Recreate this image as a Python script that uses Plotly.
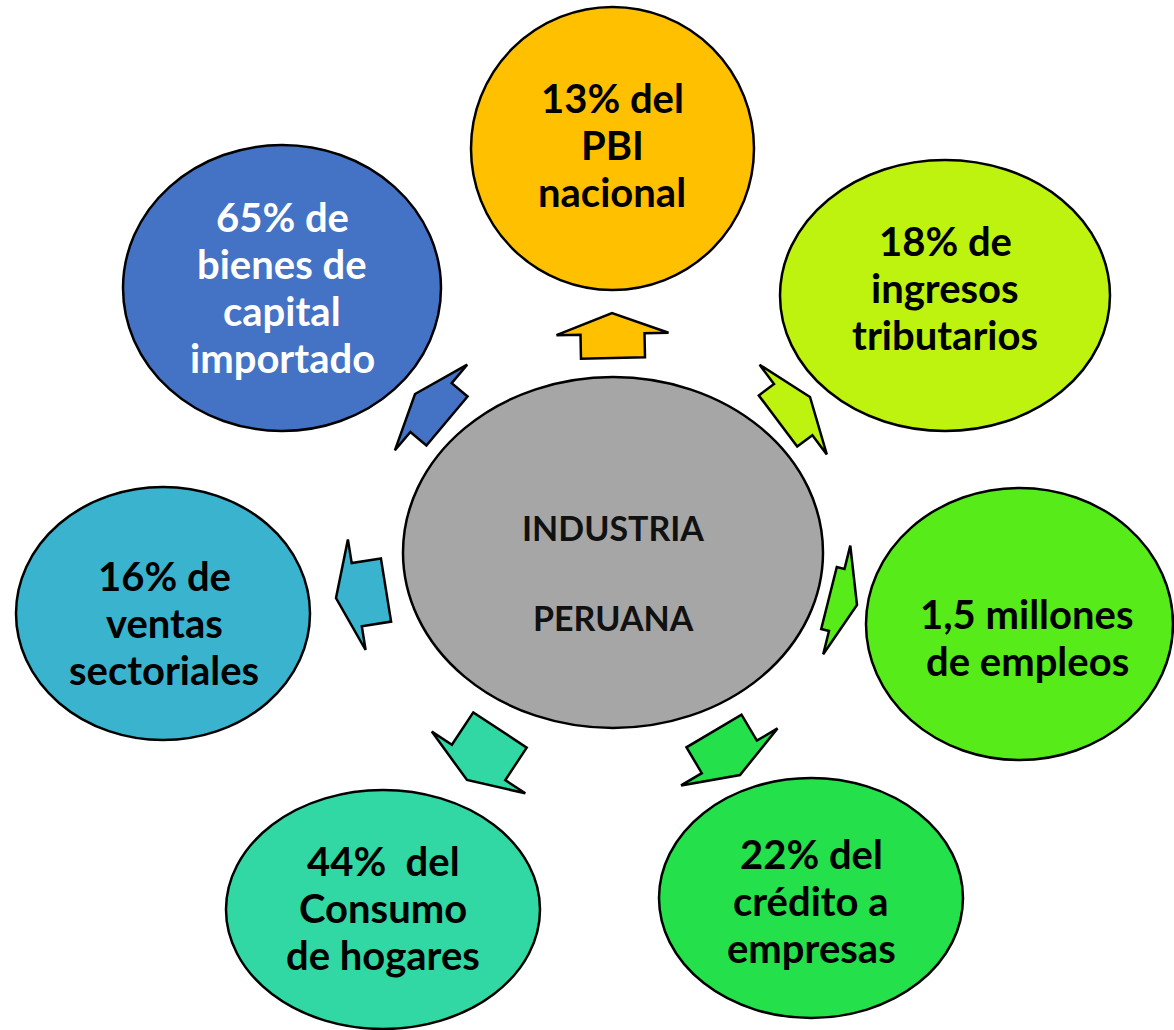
import math
import plotly.graph_objects as go

W, H = 1174, 1030

# Node data
center_lines = ["INDUSTRIA", "PERUANA"]
node_labels = [
    ["13% del", "PBI", "nacional"],
    ["65% de", "bienes de", "capital", "importado"],
    ["18% de", "ingresos", "tributarios"],
    ["16% de", "ventas", "sectoriales"],
    ["1,5 millones", "de empleos"],
    ["44%  del", "Consumo", "de hogares"],
    ["22% del", "crédito a", "empresas"],
]
node_colors = ["#FFC000", "#4472C4", "#BEF20F", "#3AB4CE", "#57EB1A", "#31D8A3", "#23E04B"]
node_text_colors = ["#000000", "#FFFFFF", "#000000", "#000000", "#000000", "#000000", "#000000"]
# ellipse bounding boxes (x0, x1, y0, y1) in page pixels
node_boxes = [
    (471, 754, 7, 290),
    (123, 441, 145, 431),
    (780, 1110, 160, 431),
    (16, 310, 487, 740),
    (866, 1173, 488, 760),
    (226, 540, 790, 1029),
    (659, 963, 778, 1018),
]
# text block centers (x, y)
text_centers = [
    (612, 145), (282, 287), (945, 288), (164, 623),
    (1027, 637), (383, 908), (811, 901),
]
center_box = (403, 823, 377, 728)
center_text_y = 572
center_color = "#A6A6A6"

# arrows: (base_x, base_y, tip_x, tip_y)
arrows = [
    (613, 358, 612, 313),
    (447, 421, 415, 394),
    (778, 421, 810, 397),
    (386, 590, 336, 598),
    (829, 598, 857, 605),
    (500, 730, 467, 780),
    (714, 731, 740, 775),
]

fig = go.Figure()
shapes = []
annotations = []

def ellipse(box, color):
    x0, x1, y0, y1 = box
    return dict(type="circle", xref="x", yref="y", x0=x0, x1=x1, y0=y0, y1=y1,
                fillcolor=color, line=dict(color="black", width=2.5), layer="below")

def arrow_path(bx, by, tx, ty, shaft_hw=32, head_hw=56, head_len=21):
    dx, dy = tx - bx, ty - by
    L = math.hypot(dx, dy)
    ux, uy = dx / L, dy / L
    nx, ny = -uy, ux
    s = max(L - head_len, 8)
    pts = [
        (bx + nx * shaft_hw, by + ny * shaft_hw),
        (bx + ux * s + nx * shaft_hw, by + uy * s + ny * shaft_hw),
        (bx + ux * s + nx * head_hw, by + uy * s + ny * head_hw),
        (tx, ty),
        (bx + ux * s - nx * head_hw, by + uy * s - ny * head_hw),
        (bx + ux * s - nx * shaft_hw, by + uy * s - ny * shaft_hw),
        (bx - nx * shaft_hw, by - ny * shaft_hw),
    ]
    return "M " + " L ".join(f"{x:.1f},{y:.1f}" for x, y in pts) + " Z"

for i, box in enumerate(node_boxes):
    shapes.append(ellipse(box, node_colors[i]))
shapes.append(ellipse(center_box, center_color))

for i, (bx, by, tx, ty) in enumerate(arrows):
    shapes.append(dict(type="path", xref="x", yref="y", path=arrow_path(bx, by, tx, ty),
                       fillcolor=node_colors[i], line=dict(color="black", width=2.5), layer="below"))

FONT = "Lato"
FS = 40
LINE = 47
for i, (cx, cy) in enumerate(text_centers):
    lines = node_labels[i]
    n = len(lines)
    for k, t in enumerate(lines):
        y = cy + (k - (n - 1) / 2) * LINE
        annotations.append(dict(x=cx, y=y, xref="x", yref="y", text=f"<b>{t}</b>", showarrow=False,
                                font=dict(family=FONT, size=FS, color=node_text_colors[i]),
                                xanchor="center", yanchor="middle"))

cx = (center_box[0] + center_box[1]) / 2
for k, t in enumerate(center_lines):
    y = center_text_y + (k - 0.5) * 90
    annotations.append(dict(x=cx, y=y, xref="x", yref="y", text=f"<b>{t}</b>", showarrow=False,
                            font=dict(family=FONT, size=34, color="#111111"),
                            xanchor="center", yanchor="middle"))

fig.update_layout(
    width=W, height=H,
    margin=dict(l=0, r=0, t=0, b=0),
    paper_bgcolor="white", plot_bgcolor="white",
    xaxis=dict(range=[0, W], visible=False, fixedrange=True),
    yaxis=dict(range=[H, 0], visible=False, fixedrange=True),
    shapes=shapes, annotations=annotations, showlegend=False,
)
fig.write_html("out.html", config={"displayModeBar": False},
               post_script="document.body.style.margin='0';document.body.style.overflow='hidden';")
